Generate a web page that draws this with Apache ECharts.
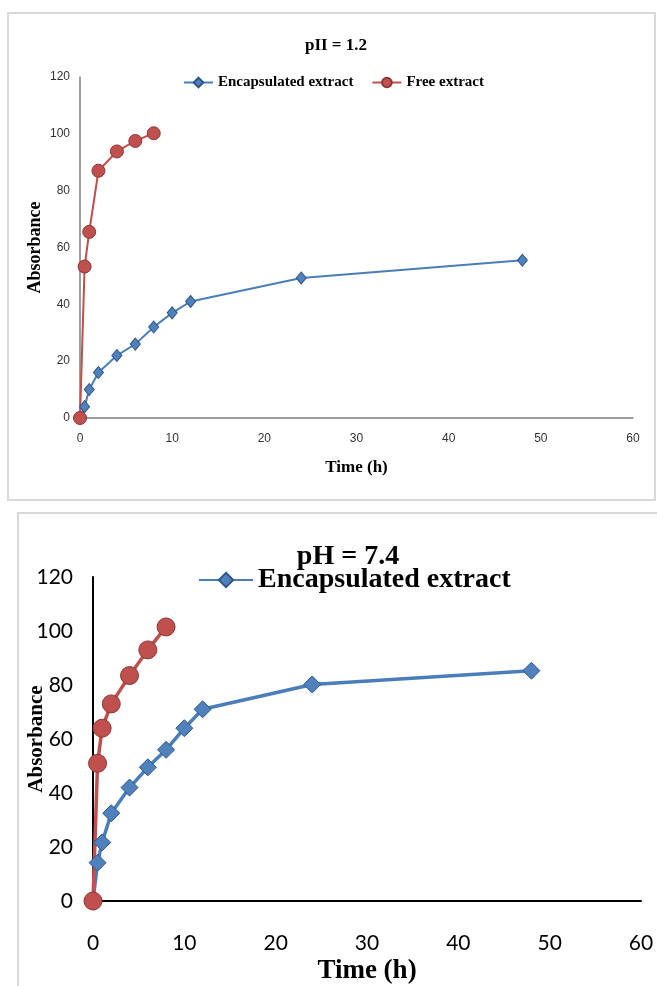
<!DOCTYPE html>
<html>
<head>
<meta charset="utf-8">
<script src="https://cdn.jsdelivr.net/npm/echarts@6/dist/echarts.min.js"></script>
<style>
  html, body { margin: 0; padding: 0; background: #fff; }
  #chart { width: 657px; height: 986px; }
</style>
</head>
<body>
<div id="chart"></div>
<script>
// pH 1.2 panel
var acidEncapX = [0, 0.5, 1, 2, 4, 6, 8, 10, 12, 24, 48];
var acidEncapY = [0, 4, 10, 16, 22, 26, 32, 37, 41, 49.3, 55.5];
var acidFreeX = [0, 0.5, 1, 2, 4, 6, 8];
var acidFreeY = [0, 53.3, 65.5, 87, 93.8, 97.5, 100.2];

// pH 7.4 panel
var neutEncapX = [0, 0.5, 1, 2, 4, 6, 8, 10, 12, 24, 48];
var neutEncapY = [0, 14.2, 21.7, 32.5, 42, 49.5, 56, 64, 71, 80.2, 85.3];
var neutFreeX = [0, 0.5, 1, 2, 4, 6, 8];
var neutFreeY = [0, 51, 64, 73, 83.5, 93, 101.5];

var xTicks = [0, 10, 20, 30, 40, 50, 60];
var yTicks = [0, 20, 40, 60, 80, 100, 120];

var serif = '"Liberation Serif", "Times New Roman", serif';
var blue = '#4a7ebb', blueEdge = '#2f5889';
var red = '#c0504d', redEdge = '#8c3836';

function pairs(xs, ys) {
    return xs.map(function (x, i) { return [x, ys[i]]; });
}

function mkSeries(name, idx, data, color, edge, symbol, size, width) {
    return {
        name: name,
        type: 'line',
        xAxisIndex: idx,
        yAxisIndex: idx,
        data: data,
        symbol: symbol,
        symbolSize: size,
        showSymbol: true,
        lineStyle: { color: color, width: width },
        itemStyle: { color: color === blue ? '#4f81bd' : '#c0504d', borderColor: edge, borderWidth: 1 },
        emphasis: { disabled: true },
        animation: false
    };
}

var chart = echarts.init(document.getElementById('chart'), null, { renderer: 'canvas' });

chart.setOption({
    backgroundColor: '#fff',
    animation: false,
    graphic: [
        { type: 'rect', shape: { x: 8, y: 13, width: 647, height: 487 },
          style: { fill: '#fff', stroke: '#d9d9d9', lineWidth: 2 }, z: -10 },
        { type: 'rect', shape: { x: 18, y: 513, width: 660, height: 490 },
          style: { fill: '#fff', stroke: '#d9d9d9', lineWidth: 2 }, z: -10 }
    ],
    title: [
        { text: 'pII = 1.2', left: 331, top: 32, textAlign: 'center',
          textStyle: { fontFamily: serif, fontWeight: 'bold', fontSize: 17, color: '#000' } },
        { text: 'pH = 7.4', left: 343, top: 538, textAlign: 'center',
          textStyle: { fontFamily: serif, fontWeight: 'bold', fontSize: 28, color: '#000' } }
    ],
    legend: [
        { left: 183, top: 75, padding: 0, itemWidth: 29, itemHeight: 12, itemGap: 18,
          data: ['Encapsulated extract', 'Free extract'],
          selectedMode: false,
          textStyle: { fontFamily: serif, fontWeight: 'bold', fontSize: 15, color: '#000' } },
        { left: 198, top: 566, padding: 0, itemWidth: 54, itemHeight: 18,
          data: ['Encapsulated extract'],
          selectedMode: false,
          textStyle: { fontFamily: serif, fontWeight: 'bold', fontSize: 28, color: '#000' } }
    ],
    grid: [
        { left: 80, top: 77, width: 553, height: 341 },
        { left: 93, top: 577, width: 548, height: 324 }
    ],
    xAxis: [
        { type: 'value', gridIndex: 0, min: xTicks[0], max: xTicks[xTicks.length - 1], interval: 10,
          name: 'Time (h)', nameLocation: 'middle', nameGap: 41, nameMoveOverlap: false,
          nameTextStyle: { fontFamily: serif, fontWeight: 'bold', fontSize: 17, color: '#000' },
          axisLine: { lineStyle: { color: '#7f7f7f', width: 1.5 } },
          axisTick: { show: false }, splitLine: { show: false },
          axisLabel: { margin: 15, fontFamily: '"Liberation Sans Narrow", "Liberation Sans", sans-serif', fontSize: 12, color: '#333' } },
        { type: 'value', gridIndex: 1, min: xTicks[0], max: xTicks[xTicks.length - 1], interval: 10,
          name: 'Time (h)', nameLocation: 'middle', nameGap: 57, nameMoveOverlap: false,
          nameTextStyle: { fontFamily: serif, fontWeight: 'bold', fontSize: 27, color: '#000' },
          axisLine: { lineStyle: { color: '#000', width: 2 } },
          axisTick: { show: false }, splitLine: { show: false },
          axisLabel: { margin: 32, fontFamily: 'Lato, "Open Sans", sans-serif', fontSize: 21, color: '#000' } }
    ],
    yAxis: [
        { type: 'value', gridIndex: 0, min: yTicks[0], max: yTicks[yTicks.length - 1], interval: 20,
          name: 'Absorbance', nameLocation: 'middle', nameGap: 36, nameMoveOverlap: false,
          nameTextStyle: { fontFamily: serif, fontWeight: 'bold', fontSize: 18, color: '#000' },
          axisLine: { show: true, lineStyle: { color: '#7f7f7f', width: 1.5 } },
          axisTick: { show: false }, splitLine: { show: false },
          axisLabel: { margin: 10, fontFamily: '"Liberation Sans Narrow", "Liberation Sans", sans-serif', fontSize: 12, color: '#333' } },
        { type: 'value', gridIndex: 1, min: yTicks[0], max: yTicks[yTicks.length - 1], interval: 20,
          name: 'Absorbance', nameLocation: 'middle', nameGap: 46, nameMoveOverlap: false,
          nameTextStyle: { fontFamily: serif, fontWeight: 'bold', fontSize: 21, color: '#000' },
          axisLine: { show: true, lineStyle: { color: '#000', width: 2 } },
          axisTick: { show: false }, splitLine: { show: false },
          axisLabel: { margin: 20, fontFamily: 'Lato, "Open Sans", sans-serif', fontSize: 21, color: '#000' } }
    ],
    series: [
        mkSeries('Encapsulated extract', 0, pairs(acidEncapX, acidEncapY), blue, blueEdge, 'diamond', [10, 12], 2),
        mkSeries('Free extract', 0, pairs(acidFreeX, acidFreeY), red, redEdge, 'circle', 13, 2),
        mkSeries('Encapsulated extract', 1, pairs(neutEncapX, neutEncapY), blue, blueEdge, 'diamond', [17, 17], 3.5),
        mkSeries('Free extract', 1, pairs(neutFreeX, neutFreeY), red, redEdge, 'circle', 18, 3.5)
    ]
});
</script>
</body>
</html>
